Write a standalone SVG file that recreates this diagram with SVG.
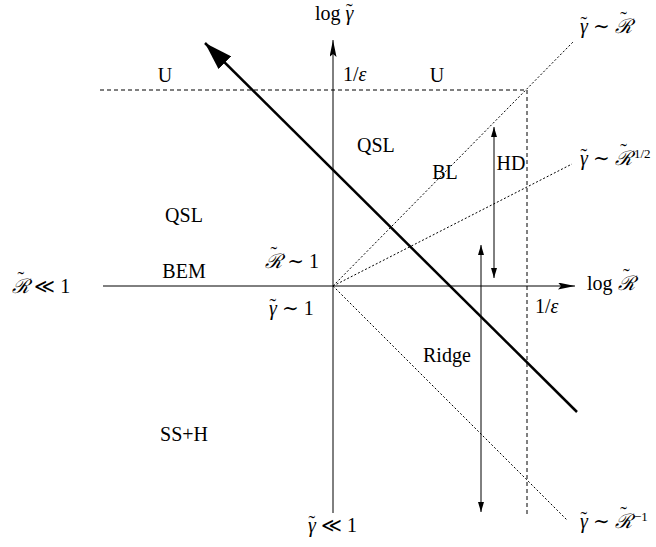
<svg xmlns="http://www.w3.org/2000/svg" width="656" height="547" viewBox="0 0 656 547">
<style>
text{font-family:"Liberation Serif","DejaVu Serif",serif;font-size:20px;fill:#000}
.m{font-style:italic}
.s{font-size:13px}
.ax{stroke:#000;stroke-width:1;fill:none}
.dash{stroke:#000;stroke-width:1;stroke-dasharray:4,3;fill:none}
.dot{stroke:#000;stroke-width:1;stroke-dasharray:2,2;fill:none}
</style>
<defs>
<marker id="ah" markerWidth="17" markerHeight="7" refX="17" refY="3.5" orient="auto" markerUnits="userSpaceOnUse"><path d="M0,0 L17,3.5 L0,7 L3,3.5 Z" fill="#000"/></marker>
<marker id="as" markerWidth="10" markerHeight="6" refX="10" refY="3" orient="auto-start-reverse" markerUnits="userSpaceOnUse"><path d="M0,0 L10,3 L0,6 Z" fill="#000"/></marker>
<marker id="big" markerWidth="28" markerHeight="18" refX="28" refY="9" orient="auto" markerUnits="userSpaceOnUse"><path d="M0,0 L28,9 L0,18 Z" fill="#000"/></marker>
</defs>
<g id="connectors">
<line class="ax" x1="103" y1="286" x2="575" y2="286" marker-end="url(#ah)"/>
<line class="ax" x1="333" y1="513" x2="333" y2="40" marker-end="url(#ah)"/>
<line class="dash" x1="100" y1="90" x2="527" y2="90"/>
<line class="dash" x1="527" y1="90" x2="527" y2="515"/>
<line class="dot" x1="333" y1="286" x2="573" y2="42"/>
<line class="dot" x1="333" y1="286" x2="572" y2="164"/>
<line class="dot" x1="333" y1="286" x2="567" y2="520"/>
<line class="ax" x1="494" y1="127" x2="494" y2="278" marker-start="url(#as)" marker-end="url(#as)"/>
<line class="ax" x1="481" y1="245" x2="481" y2="512" marker-start="url(#as)" marker-end="url(#as)"/>
<line x1="577" y1="412" x2="205" y2="43" stroke="#000" stroke-width="2.5" marker-end="url(#big)"/>
</g>
<g id="labels">
<text x="315" y="20">log <tspan class="m">γ</tspan><tspan dx="-7.5" dy="-2">˜</tspan></text>
<text x="343" y="81"><tspan>1/</tspan><tspan class="m">ε</tspan></text>
<text x="165" y="82" text-anchor="middle">U</text>
<text x="437" y="82" text-anchor="middle">U</text>
<text x="357" y="152">QSL</text>
<text x="184" y="222" text-anchor="middle">QSL</text>
<text x="445" y="179" text-anchor="middle">BL</text>
<text x="511" y="170" text-anchor="middle">HD</text>
<text x="184" y="278" text-anchor="middle">BEM</text>
<text x="265" y="268"><tspan class="m">ℛ</tspan><tspan dx="-11.5" dy="-7">˜</tspan><tspan dx="5" dy="7"> ∼ 1</tspan></text>
<text x="269" y="315"><tspan class="m">γ</tspan><tspan dx="-7.5" dy="-2">˜</tspan><tspan dx="1" dy="2"> ∼ 1</tspan></text>
<text x="12" y="293"><tspan class="m">ℛ</tspan><tspan dx="-11.5" dy="-7">˜</tspan><tspan dx="5" dy="7"> ≪ 1</tspan></text>
<text x="535" y="313"><tspan>1/</tspan><tspan class="m">ε</tspan></text>
<text x="587" y="290">log <tspan class="m">ℛ</tspan><tspan dx="-11.5" dy="-7">˜</tspan></text>
<text x="423" y="362">Ridge</text>
<text x="184" y="441" text-anchor="middle">SS+H</text>
<text x="308" y="532"><tspan class="m">γ</tspan><tspan dx="-7.5" dy="-2">˜</tspan><tspan dx="1" dy="2"> ≪ 1</tspan></text>
<text x="580" y="33"><tspan class="m">γ</tspan><tspan dx="-7.5" dy="-2">˜</tspan><tspan dx="1" dy="2"> ∼ </tspan><tspan class="m">ℛ</tspan><tspan dx="-11.5" dy="-7">˜</tspan></text>
<text x="580" y="165"><tspan class="m">γ</tspan><tspan dx="-7.5" dy="-2">˜</tspan><tspan dx="1" dy="2"> ∼ </tspan><tspan class="m">ℛ</tspan><tspan dx="-11.5" dy="-7">˜</tspan><tspan class="s" dx="7" dy="0">1/2</tspan></text>
<text x="580" y="528"><tspan class="m">γ</tspan><tspan dx="-7.5" dy="-2">˜</tspan><tspan dx="1" dy="2"> ∼ </tspan><tspan class="m">ℛ</tspan><tspan dx="-11.5" dy="-7">˜</tspan><tspan class="s" dx="7" dy="0">−1</tspan></text>
</g>
</svg>
